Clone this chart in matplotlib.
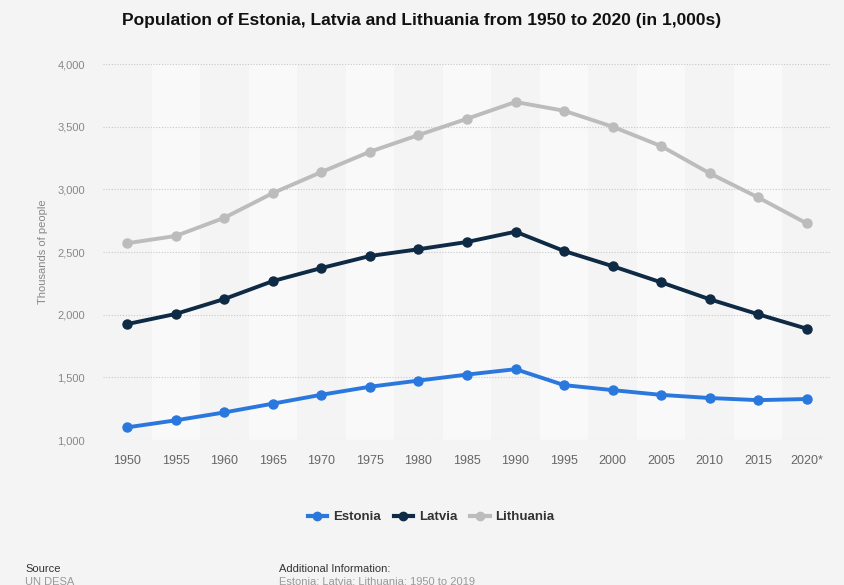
import matplotlib
matplotlib.use("Agg")
import matplotlib.pyplot as plt
from matplotlib.lines import Line2D

plt.rcParams['font.family'] = ['Liberation Sans', 'DejaVu Sans']

years = [1950, 1955, 1960, 1965, 1970, 1975, 1980, 1985, 1990, 1995, 2000, 2005, 2010, 2015, 2020]
year_labels = ['1950', '1955', '1960', '1965', '1970', '1975', '1980', '1985', '1990',
               '1995', '2000', '2005', '2010', '2015', '2020*']
estonia = [1101, 1157, 1220, 1290, 1361, 1425, 1474, 1522, 1565, 1438, 1398, 1360, 1335, 1318, 1327]
latvia = [1925, 2006, 2125, 2268, 2372, 2468, 2522, 2580, 2662, 2508, 2387, 2258, 2123, 2003, 1888]
lithuania = [2570, 2628, 2773, 2970, 3138, 3300, 3433, 3563, 3697, 3627, 3500, 3345, 3128, 2935, 2728]
y_ticks = [1000, 1500, 2000, 2500, 3000, 3500, 4000]

series = [
    ('Estonia', estonia, '#2a78de'),
    ('Latvia', latvia, '#0e2a44'),
    ('Lithuania', lithuania, '#bcbcbc'),
]

bg = '#f4f4f4'
fig = plt.figure(figsize=(8.44, 5.85), dpi=100, facecolor=bg)
ax = fig.add_axes([103 / 844, 145 / 585, 728 / 844, 376 / 585])
ax.set_facecolor(bg)

x0, x1 = years[0] - 2.5, years[-1] + 2.5
ax.set_xlim(x0, x1)
ax.set_ylim(1000, 4000)

# alternating column bands
for i, yr in enumerate(years):
    if i % 2 == 1:
        ax.axvspan(yr - 2.5, yr + 2.5, color='#f9f9f9', zorder=0, lw=0)

for t in y_ticks:
    ax.axhline(t, color='#c8c8c8', lw=0.8, ls=(0, (1, 1.5)), zorder=1)

for name, vals, col in series:
    ax.plot(years, vals, color=col, lw=2.8, marker='o', ms=6.5, zorder=3,
            solid_capstyle='round', solid_joinstyle='round')

ax.set_xticks(years)
ax.set_xticklabels(year_labels, color='#666666', fontsize=9)
ax.set_yticks(y_ticks)
ax.set_yticklabels([f'{t:,}' for t in y_ticks], color='#888888', fontsize=8)
ax.tick_params(axis='both', length=0)
ax.tick_params(axis='x', pad=11)
ax.tick_params(axis='y', pad=13)
for s in ax.spines.values():
    s.set_visible(False)
ax.set_ylabel('Thousands of people', color='#888888', fontsize=8, labelpad=7)

fig.text(0.5, 1 - 20 / 585, 'Population of Estonia, Latvia and Lithuania from 1950 to 2020 (in 1,000s)',
         ha='center', va='center', fontsize=12.5, fontweight='bold', color='#111111')

handles = [Line2D([0], [0], color=c, lw=3, marker='o', ms=6) for _, _, c in series]
leg = fig.legend(handles, [n for n, _, _ in series], loc='center', bbox_to_anchor=(431 / 844, 1 - 517 / 585),
                 ncol=3, frameon=False, fontsize=9.5, handlelength=1.5, columnspacing=1.0, handletextpad=0.4)
for t in leg.get_texts():
    t.set_fontweight('bold')
    t.set_color('#333333')

fig.text(25 / 844, 1 - 569 / 585, 'Source', fontsize=8, color='#333333', va='center')
fig.text(25 / 844, 1 - 582 / 585, 'UN DESA', fontsize=8, color='#999999', va='center')
fig.text(279 / 844, 1 - 569 / 585, 'Additional Information:', fontsize=8, color='#333333', va='center')
fig.text(279 / 844, 1 - 582 / 585, 'Estonia; Latvia; Lithuania; 1950 to 2019', fontsize=8, color='#999999', va='center')

fig.savefig('out.png', dpi=100, facecolor=bg)
